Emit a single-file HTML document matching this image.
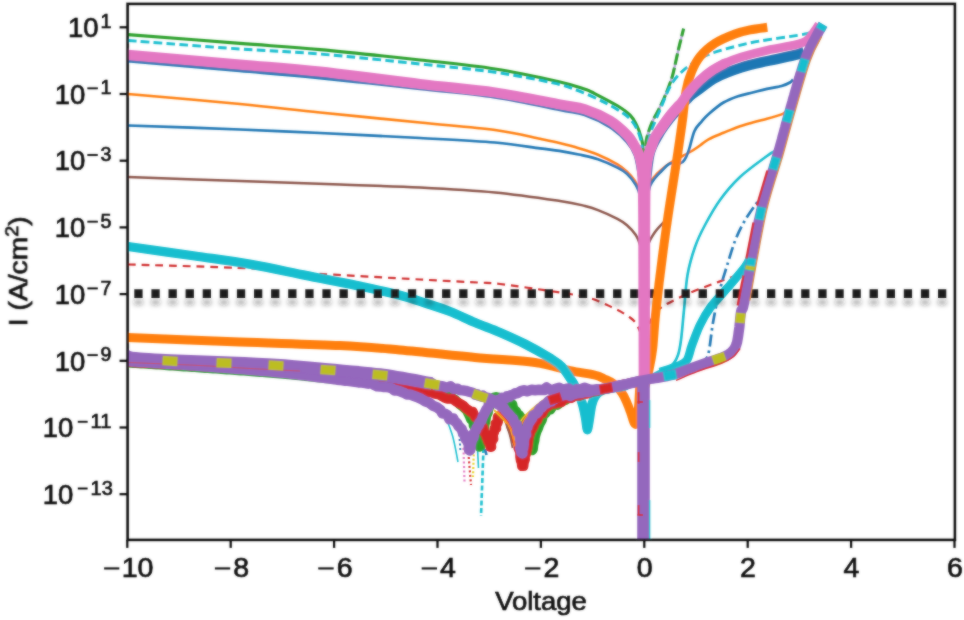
<!DOCTYPE html>
<html><head><meta charset="utf-8"><title>I-V</title>
<style>
html,body{margin:0;padding:0;background:#fff;}
body{width:964px;height:620px;overflow:hidden;font-family:"Liberation Sans",sans-serif;}
svg{display:block}
text{font-family:"Liberation Sans",sans-serif;fill:#0c0c0c;stroke:#0c0c0c;stroke-width:0.65px}
</style></head><body>
<svg width="964" height="620" viewBox="0 0 964 620">
<defs>
<clipPath id="clip"><rect x="127.6" y="3.9" width="827.3" height="536.0"/></clipPath>
<filter id="soft" x="-2%" y="-2%" width="104%" height="104%"><feGaussianBlur stdDeviation="0.85" result="b"/><feComposite in="SourceGraphic" in2="b" operator="arithmetic" k1="0" k2="0.45" k3="0.55" k4="0"/></filter>
<filter id="shadow" filterUnits="userSpaceOnUse" x="120" y="285" width="840" height="35"><feGaussianBlur stdDeviation="2.4 2.1"/></filter>
</defs>
<rect width="964" height="620" fill="#fff"/>
<g filter="url(#soft)">
<g clip-path="url(#clip)">
<path d="M128.0 34.6 C146.7 36.1 208.0 40.9 240.0 43.4 C272.0 45.9 290.0 46.8 320.0 49.6 C350.0 52.4 390.8 56.8 420.0 60.0 C449.2 63.2 471.7 65.3 495.0 69.0 C518.3 72.7 545.0 78.6 560.0 82.0 C575.0 85.4 579.7 87.6 585.0 89.3 C590.3 91.0 586.2 89.2 591.6 92.0 C597.0 94.8 611.0 101.9 617.4 105.8 C623.8 109.7 627.1 112.1 630.3 115.4 C633.5 118.7 635.0 121.8 636.8 125.4 C638.6 129.0 640.0 133.2 641.0 137.0 C642.0 140.8 642.6 141.7 643.0 148.0 C643.4 154.3 643.5 170.5 643.6 175.0" fill="none" stroke="#2ca02c" stroke-width="3.10" stroke-linecap="butt" stroke-linejoin="round"/>
<path d="M645.0 175.0 C645.1 170.8 645.2 156.3 645.5 150.0 C645.8 143.7 645.8 141.8 647.0 137.0 C648.2 132.2 650.7 125.7 652.6 121.2 C654.5 116.7 656.6 113.8 658.5 110.0 C660.4 106.2 662.1 102.6 663.9 98.6 C665.6 94.6 667.5 90.1 669.0 86.0 C670.5 81.9 671.4 80.0 673.0 73.8 C674.6 67.6 676.8 56.4 678.6 48.9 C680.4 41.4 682.8 32.0 683.6 28.6" fill="none" stroke="#b9a8dc" stroke-width="2.40" stroke-linecap="butt" stroke-linejoin="round"/>
<path d="M645.0 175.0 C645.1 170.8 645.2 156.3 645.5 150.0 C645.8 143.7 645.8 141.8 647.0 137.0 C648.2 132.2 650.7 125.7 652.6 121.2 C654.5 116.7 656.6 113.8 658.5 110.0 C660.4 106.2 662.1 102.6 663.9 98.6 C665.6 94.6 667.5 90.1 669.0 86.0 C670.5 81.9 671.4 80.0 673.0 73.8 C674.6 67.6 676.8 56.4 678.6 48.9 C680.4 41.4 682.8 32.0 683.6 28.6" fill="none" stroke="#2ca02c" stroke-width="3.10" stroke-linecap="butt" stroke-linejoin="round" stroke-dasharray="11.5 3"/>
<path d="M128.0 40.5 C146.7 41.9 208.0 46.8 240.0 49.0 C272.0 51.2 290.0 51.5 320.0 54.0 C350.0 56.5 390.8 61.0 420.0 64.0 C449.2 67.0 472.9 69.1 495.0 72.3 C517.1 75.5 538.9 79.8 552.9 82.9 C566.9 86.0 570.1 87.7 578.7 90.9 C587.3 94.2 597.0 98.6 604.5 102.4 C612.0 106.2 619.1 110.5 623.9 113.8 C628.6 117.1 630.5 119.1 633.0 122.5 C635.5 125.9 637.4 129.8 639.0 134.0 C640.6 138.2 641.9 145.7 642.5 148.0" fill="none" stroke="#17becf" stroke-width="2.90" stroke-linecap="butt" stroke-linejoin="round" stroke-dasharray="8.6 4.3"/>
<path d="M646.0 155.0 C646.7 151.7 647.7 142.5 650.0 135.0 C652.3 127.5 656.2 118.8 660.0 110.0 C663.8 101.2 667.5 90.0 672.5 82.5 C677.5 75.0 683.8 69.8 690.0 65.0 C696.2 60.2 702.5 57.1 710.0 54.0 C717.5 50.9 726.7 48.7 735.0 46.5 C743.3 44.3 749.2 42.9 760.0 41.0 C770.8 39.1 791.3 36.5 800.0 35.0 C808.7 33.5 810.0 32.5 812.0 32.0" fill="none" stroke="#17becf" stroke-width="2.90" stroke-linecap="butt" stroke-linejoin="round" stroke-dasharray="8.6 4.3"/>
<path d="M128.0 94.0 C146.7 95.7 208.0 100.9 240.0 104.0 C272.0 107.1 290.0 109.4 320.0 112.5 C350.0 115.6 390.8 119.6 420.0 122.5 C449.2 125.4 475.0 127.3 495.0 130.0 C515.0 132.7 529.3 136.6 540.0 138.8 C550.7 141.0 552.9 141.4 559.4 143.0 C565.9 144.6 572.3 146.2 578.7 148.2 C585.1 150.1 591.5 152.0 598.0 154.7 C604.5 157.4 612.6 161.6 617.4 164.4 C622.2 167.2 624.1 169.1 627.0 171.8 C629.9 174.5 632.7 177.6 634.8 180.8 C636.9 184.0 638.2 186.8 639.5 191.0 C640.8 195.2 641.6 199.5 642.3 206.0 C643.0 212.5 643.3 226.0 643.5 230.0" fill="none" stroke="#ff7f0e" stroke-width="2.60" stroke-linecap="butt" stroke-linejoin="round"/>
<path d="M645.0 225.0 C645.3 220.3 646.2 203.9 647.0 197.0 C647.8 190.1 648.7 187.0 650.0 183.5 C651.3 180.0 653.3 178.1 655.0 176.0 C656.7 173.9 657.5 173.2 660.0 171.0 C662.5 168.8 665.0 166.2 670.0 163.0 C675.0 159.8 685.0 154.9 690.0 152.0 C695.0 149.1 696.8 147.7 700.0 145.5 C703.2 143.3 705.1 141.2 709.0 139.1 C712.9 137.0 718.7 134.8 723.5 132.8 C728.3 130.8 733.1 128.6 738.0 126.9 C742.9 125.2 747.8 123.9 752.6 122.5 C757.4 121.1 762.2 120.0 767.0 118.7 C771.8 117.4 778.6 115.5 781.6 114.4 C784.6 113.3 784.4 112.6 785.0 112.2" fill="none" stroke="#ff7f0e" stroke-width="2.60" stroke-linecap="butt" stroke-linejoin="round"/>
<path d="M128.0 125.5 C146.7 126.2 208.0 128.2 240.0 129.5 C272.0 130.8 290.0 131.6 320.0 133.0 C350.0 134.4 390.8 136.4 420.0 138.0 C449.2 139.6 475.0 140.8 495.0 142.5 C515.0 144.2 529.3 147.0 540.0 148.4 C550.7 149.8 552.9 149.9 559.4 150.9 C565.9 151.9 572.3 153.1 578.7 154.5 C585.1 155.9 591.5 157.0 598.0 159.2 C604.5 161.4 612.6 165.1 617.4 167.5 C622.2 169.9 623.9 170.8 627.0 173.7 C630.1 176.6 633.6 181.0 635.8 184.7 C638.0 188.4 638.9 191.4 640.0 196.0 C641.1 200.6 641.9 205.5 642.5 212.0 C643.1 218.5 643.3 231.2 643.5 235.0" fill="none" stroke="#1f77b4" stroke-width="2.70" stroke-linecap="butt" stroke-linejoin="round"/>
<path d="M645.0 230.0 C645.3 225.3 646.2 209.3 647.0 202.0 C647.8 194.7 648.7 190.0 650.0 186.0 C651.3 182.0 653.3 180.2 655.0 178.0 C656.7 175.8 657.5 174.9 660.0 172.5 C662.5 170.1 666.7 165.0 670.0 163.5 C673.3 162.0 677.6 164.1 680.0 163.5 C682.4 162.9 682.9 162.2 684.4 160.0 C685.9 157.8 687.0 155.4 688.7 150.6 C690.4 145.8 692.3 135.9 694.5 131.0 C696.7 126.1 699.4 124.2 701.8 121.3 C704.2 118.4 705.4 116.8 709.0 113.7 C712.6 110.6 718.7 105.4 723.5 102.5 C728.3 99.6 733.1 97.9 738.0 96.2 C742.9 94.5 747.8 93.7 752.6 92.5 C757.4 91.3 762.2 90.0 767.0 88.9 C771.8 87.8 777.8 87.1 781.6 86.0 C785.4 84.9 788.1 83.6 790.0 82.5 C791.9 81.4 792.5 80.0 793.0 79.5" fill="none" stroke="#1f77b4" stroke-width="2.70" stroke-linecap="butt" stroke-linejoin="round"/>
<path d="M128.0 177.0 C146.7 177.7 204.7 179.8 240.0 181.0 C275.3 182.2 310.0 183.4 340.0 184.5 C370.0 185.6 394.2 186.2 420.0 187.5 C445.8 188.8 471.7 190.2 495.0 192.5 C518.3 194.8 545.0 198.8 560.0 201.0 C575.0 203.2 578.7 204.5 585.0 206.0 C591.3 207.5 592.6 208.0 598.0 210.2 C603.4 212.3 612.6 216.4 617.4 218.9 C622.2 221.4 623.9 222.5 627.0 225.2 C630.1 227.9 633.6 231.7 635.8 235.0 C638.0 238.3 638.9 241.2 640.0 245.0 C641.1 248.8 641.9 252.5 642.5 258.0 C643.1 263.5 643.3 274.7 643.5 278.0" fill="none" stroke="#8c564b" stroke-width="2.50" stroke-linecap="butt" stroke-linejoin="round"/>
<path d="M645.0 275.0 C645.2 271.7 645.8 260.4 646.5 255.0 C647.2 249.6 647.6 246.3 649.0 242.5 C650.4 238.7 653.0 234.9 655.0 232.0 C657.0 229.1 658.8 227.3 661.0 225.0 C663.2 222.7 666.8 219.2 668.0 218.0" fill="none" stroke="#8c564b" stroke-width="2.50" stroke-linecap="butt" stroke-linejoin="round"/>
<path d="M128.0 264.5 C148.3 265.1 220.2 266.9 250.0 268.3 C279.8 269.7 278.7 271.1 307.0 273.0 C335.3 274.9 391.5 277.9 420.0 279.5 C448.5 281.1 464.7 281.8 478.0 282.5 C491.3 283.2 488.0 282.6 500.0 284.0 C512.0 285.4 535.4 288.8 550.0 291.0 C564.6 293.2 577.1 294.8 587.5 297.5 C597.9 300.2 605.4 304.2 612.5 307.5 C619.6 310.8 625.8 314.4 630.0 317.5 C634.2 320.6 635.5 322.2 637.5 326.0 C639.5 329.8 641.0 333.5 642.0 340.0 C643.0 346.5 643.2 360.8 643.5 365.0" fill="none" stroke="#cf2a2b" stroke-width="2.20" stroke-linecap="butt" stroke-linejoin="round" stroke-dasharray="7.8 5.9"/>
<path d="M645.0 365.0 C645.3 360.0 645.8 342.8 647.0 335.0 C648.2 327.2 649.5 322.7 652.0 318.0 C654.5 313.3 656.5 310.8 662.0 307.0 C667.5 303.2 677.0 298.7 685.0 295.0 C693.0 291.3 701.7 288.2 710.0 285.0 C718.3 281.8 728.7 278.5 735.0 276.0 C741.3 273.5 745.8 271.0 748.0 270.0" fill="none" stroke="#cf2a2b" stroke-width="2.20" stroke-linecap="butt" stroke-linejoin="round" stroke-dasharray="7.8 5.9"/>
<path d="M650.0 376.0 C651.7 375.2 656.3 372.8 660.0 371.0 C663.7 369.2 669.0 367.7 672.0 365.0 C675.0 362.3 676.5 359.2 678.0 355.0 C679.5 350.8 680.0 347.5 681.0 340.0 C682.0 332.5 682.9 320.8 684.0 310.0 C685.1 299.2 685.7 285.5 687.5 275.0 C689.3 264.5 692.1 255.3 695.0 247.0 C697.9 238.7 700.8 232.8 705.0 225.0 C709.2 217.2 714.2 208.0 720.0 200.0 C725.8 192.0 732.2 184.3 740.0 177.0 C747.8 169.7 761.2 160.3 767.0 156.0 C772.8 151.7 773.7 151.8 775.0 151.0" fill="none" stroke="#17becf" stroke-width="2.60" stroke-linecap="butt" stroke-linejoin="round"/>
<path d="M700.0 366.0 C701.0 364.8 704.5 361.5 706.0 359.0 C707.5 356.5 707.8 357.1 709.0 351.0 C710.2 344.9 711.3 332.5 713.0 322.6 C714.7 312.7 717.1 301.1 719.4 291.6 C721.7 282.1 724.4 274.2 727.0 265.8 C729.6 257.4 732.2 248.3 735.0 241.0 C737.8 233.7 740.5 228.2 744.0 222.0 C747.5 215.8 752.5 208.8 756.0 204.0 C759.5 199.2 763.5 194.8 765.0 193.0" fill="none" stroke="#1f77b4" stroke-width="2.70" stroke-linecap="butt" stroke-linejoin="round" stroke-dasharray="12 4 2.5 4"/>
<path d="M400.0 386.0 C404.2 388.0 418.2 394.0 425.0 398.0 C431.8 402.0 436.5 404.0 441.0 410.0 C445.5 416.0 449.2 425.3 452.0 434.0 C454.8 442.7 457.0 457.3 458.0 462.0" fill="none" stroke="#17becf" stroke-width="1.60" stroke-linecap="butt" stroke-linejoin="round"/>
<path d="M483.5 448.0 L481.0 516.0" fill="none" stroke="#17becf" stroke-width="2.60" stroke-linecap="butt" stroke-linejoin="round" stroke-dasharray="5 2.5"/>
<path d="M459.0 430.0 L460.5 452.0" fill="none" stroke="#1f77b4" stroke-width="2.00" stroke-linecap="butt" stroke-linejoin="round" stroke-dasharray="2 2.5"/>
<path d="M463.5 448.0 L464.5 482.0" fill="none" stroke="#e377c2" stroke-width="2.20" stroke-linecap="butt" stroke-linejoin="round" stroke-dasharray="2 2.5"/>
<path d="M468.0 448.0 L471.0 485.0" fill="none" stroke="#d62728" stroke-width="2.20" stroke-linecap="butt" stroke-linejoin="round" stroke-dasharray="2 2.5"/>
<path d="M474.0 446.0 L473.0 477.0" fill="none" stroke="#e8d020" stroke-width="2.20" stroke-linecap="butt" stroke-linejoin="round" stroke-dasharray="2 2.2"/>
<path d="M477.5 448.0 L478.5 468.0" fill="none" stroke="#17becf" stroke-width="1.60" stroke-linecap="butt" stroke-linejoin="round"/>
<path d="M485.0 449.0 L486.5 455.0" fill="none" stroke="#1f77b4" stroke-width="2.60" stroke-linecap="butt" stroke-linejoin="round"/>
<path d="M128.0 337.5 C146.7 338.2 204.7 340.7 240.0 342.0 C275.3 343.3 313.3 344.2 340.0 345.5 C366.7 346.8 377.5 348.0 400.0 350.0 C422.5 352.0 452.5 355.4 475.0 357.5 C497.5 359.6 519.2 360.3 535.0 362.5 C550.8 364.7 560.1 368.5 570.0 370.6 C579.9 372.7 588.8 373.6 594.5 375.0 C600.2 376.4 600.8 377.2 604.0 378.7 C607.2 380.2 611.0 381.6 614.0 384.0 C617.0 386.4 619.8 389.8 622.0 393.0 C624.2 396.2 625.6 399.8 627.0 403.0 C628.4 406.2 629.3 408.8 630.5 412.0 C631.7 415.2 633.0 420.7 634.0 422.5 C635.0 424.3 635.8 425.4 636.5 423.0 C637.2 420.6 638.0 413.2 638.5 408.0 C639.0 402.8 639.2 396.7 639.5 392.0 C639.8 387.3 639.9 382.0 640.0 380.0" fill="none" stroke="#ff7f0e" stroke-width="9.00" stroke-linecap="round" stroke-linejoin="round"/>
<path d="M128.0 246.5 C139.2 248.1 174.5 253.0 195.0 256.0 C215.5 259.0 232.3 261.1 251.0 264.4 C269.7 267.7 288.3 271.9 307.0 275.6 C325.7 279.3 347.5 283.5 363.0 286.8 C378.5 290.1 389.7 292.6 400.0 295.3 C410.3 298.0 416.7 300.3 425.0 303.0 C433.3 305.7 441.7 308.2 450.0 311.5 C458.3 314.8 466.7 319.0 475.0 322.5 C483.3 326.0 491.7 328.9 500.0 332.5 C508.3 336.1 516.7 339.8 525.0 344.0 C533.3 348.2 543.8 354.2 550.0 358.0 C556.2 361.8 558.1 362.8 562.0 367.0 C565.9 371.2 570.6 378.7 573.5 383.5 C576.4 388.3 577.9 392.2 579.5 396.0 C581.1 399.8 582.0 402.3 583.0 406.0 C584.0 409.7 584.8 414.2 585.5 418.0 C586.2 421.8 586.6 426.8 587.0 428.5 C587.4 430.2 587.4 430.2 587.8 428.5 C588.2 426.8 589.0 421.9 589.6 418.0 C590.2 414.1 590.8 408.6 591.7 405.0 C592.6 401.4 593.6 398.8 595.0 396.5 C596.4 394.2 597.5 392.8 600.0 391.5 C602.5 390.2 605.8 389.4 610.0 388.5 C614.2 387.6 622.5 386.4 625.0 386.0" fill="none" stroke="#17becf" stroke-width="9.30" stroke-linecap="round" stroke-linejoin="round"/>
<path d="M660.0 372.0 C663.0 371.0 673.5 368.0 678.0 366.0 C682.5 364.0 684.7 363.5 687.0 360.0 C689.3 356.5 689.8 350.8 692.0 345.0 C694.2 339.2 697.0 331.2 700.0 325.0 C703.0 318.8 705.0 314.7 710.0 308.0 C715.0 301.3 724.2 291.8 730.0 285.0 C735.8 278.2 741.7 271.5 745.0 267.0 C748.3 262.5 749.2 259.5 750.0 258.0" fill="none" stroke="#17becf" stroke-width="8.60" stroke-linecap="butt" stroke-linejoin="round"/>
<g filter="url(#shadow)" opacity="0.34"><path d="M134.3 302.3 H947" stroke="#222" stroke-width="6" stroke-dasharray="8.3 8.8" fill="none"/></g>
<path d="M134.3 293.6 H947" stroke="#1e1e1e" stroke-width="8.8" stroke-dasharray="8.3 8.8" fill="none"/>
<path d="M128.0 60.0 C146.7 61.6 208.0 67.0 240.0 69.8 C272.0 72.6 290.0 74.0 320.0 77.0 C350.0 80.0 390.8 84.6 420.0 87.8 C449.2 91.0 471.7 92.7 495.0 96.2 C518.3 99.7 545.0 105.8 560.0 108.8 C575.0 111.8 576.7 111.1 585.0 114.0 C593.3 116.9 602.9 121.5 610.0 126.0 C617.1 130.5 623.2 136.2 627.5 141.0 C631.8 145.8 633.8 148.5 636.0 155.0 C638.2 161.5 640.2 175.8 641.0 180.0" fill="none" stroke="#1f77b4" stroke-width="5.00" stroke-linecap="butt" stroke-linejoin="round"/>
<path d="M646.0 180.0 C646.7 175.3 647.7 160.0 650.0 152.0 C652.3 144.0 656.7 137.7 660.0 132.0 C663.3 126.3 666.7 122.2 670.0 118.0 C673.3 113.8 676.7 110.7 680.0 107.0 C683.3 103.3 686.7 99.1 690.0 96.0 C693.3 92.9 695.7 91.7 700.0 88.6 C704.3 85.5 708.9 81.1 715.8 77.6 C722.7 74.1 733.0 70.2 741.6 67.4 C750.2 64.6 758.8 63.0 767.4 61.0 C776.0 59.0 787.1 56.9 793.2 55.4 C799.3 53.9 802.2 52.6 804.0 52.0" fill="none" stroke="#1f77b4" stroke-width="10.40" stroke-linecap="butt" stroke-linejoin="round"/>
<path d="M644.0 390.0 C644.8 387.0 647.1 378.7 648.5 372.0 C649.9 365.3 651.2 360.3 652.5 350.0 C653.8 339.7 653.8 330.0 656.0 310.0 C658.2 290.0 662.4 255.8 666.0 230.0 C669.6 204.2 674.8 173.3 677.5 155.0 C680.2 136.7 681.1 130.7 682.5 120.0 C683.9 109.3 684.5 99.0 686.0 91.0 C687.5 83.0 689.2 77.7 691.5 72.0 C693.8 66.3 696.1 61.4 700.0 56.6 C703.9 51.8 709.2 47.1 715.0 43.3 C720.8 39.5 729.2 36.2 735.0 34.0 C740.8 31.8 744.6 30.9 750.0 29.8 C755.4 28.7 764.4 27.7 767.3 27.3" fill="none" stroke="#ff7f0e" stroke-width="9.00" stroke-linecap="butt" stroke-linejoin="round"/>
<path d="M128.0 363.0 L130.6 363.2 L133.2 363.4 L135.7 363.5 L138.4 363.7 L141.1 363.9 L143.7 364.1 L146.4 364.3 L148.9 364.4 L151.4 364.6 L153.9 364.8 L156.5 365.0 L159.0 365.1 L161.7 365.3 L164.5 365.5 L167.2 365.7 L170.0 365.9 L172.7 366.1 L175.5 366.3 L178.3 366.5 L181.1 366.7 L183.9 366.9 L186.7 367.1 L189.4 367.2 L192.0 367.4 L194.7 367.6 L197.3 367.8 L200.0 368.0 L202.6 368.2 L205.2 368.4 L207.9 368.6 L210.5 368.8 L213.1 368.9 L215.8 369.1 L218.6 369.3 L221.3 369.5 L224.1 369.7 L226.8 369.9 L229.6 370.1 L232.4 370.3 L235.2 370.5 L238.0 370.7 L240.8 370.9 L243.5 371.1 L246.3 371.3 L249.0 371.6 L251.8 371.8 L254.5 372.0 L257.2 372.2 L259.8 372.4 L262.4 372.6 L265.1 372.8 L267.7 373.0 L270.8 373.2 L273.9 373.5 L276.9 373.7 L280.0 374.0 L282.8 374.3 L285.6 374.5 L288.4 374.8 L291.2 375.0 L293.7 375.3 L296.3 375.5 L298.9 375.8 L301.5 376.0 L304.7 376.4 L308.0 376.7 L311.2 377.0 L314.4 377.4 L317.6 377.7 L320.7 378.0 L323.9 378.4 L327.1 378.7 L330.2 379.0 L333.5 379.4 L336.7 379.7 L340.0 380.0 L342.6 380.2 L345.1 380.5 L347.7 380.7 L350.2 380.9 L352.9 381.2 L355.5 381.4 L358.1 381.6 L360.7 381.8 L363.4 382.1 L366.0 382.3 L368.6 382.5 L371.2 382.7 L373.8 382.9 L376.4 383.2 L378.9 383.4 L381.5 383.6 L384.7 383.9 L387.9 384.2 L391.2 384.6 L394.2 384.9 L397.1 385.2 L399.9 385.7 L402.7 385.9 L405.2 385.7 L407.9 386.3 L410.6 386.8 L413.1 386.9 L415.6 387.5 L418.9 388.5 L422.6 388.8 L425.6 388.6 L428.8 389.4 L432.1 390.2 L434.5 389.8 L437.2 392.3 L439.7 392.2 L444.8 392.4 L448.5 396.5 L451.0 397.1 L454.7 398.8 L457.6 401.7 L459.4 404.7 L462.7 407.2 L465.1 409.3 L466.4 410.7 L468.2 414.0 L469.3 416.3 L470.6 419.6 L473.0 421.1 L473.2 425.7 L475.6 428.8 L475.4 429.1 L477.3 433.1 L477.6 436.8 L479.1 438.5 L479.2 441.3 L480.0 443.9 L479.9 445.7 L479.4 447.3 L480.9 446.4 L480.3 443.7 L482.1 439.6 L482.5 437.8 L482.8 433.7 L484.4 427.9 L485.1 424.5 L486.0 421.2 L486.7 416.1 L488.4 412.6 L488.7 409.6 L490.6 405.3 L490.4 402.9 L491.8 400.7 L493.1 398.5 L493.8 397.1 L493.7 397.8 L495.3 397.5 L496.1 396.6 L497.4 397.0 L498.8 397.1 L500.8 397.6 L502.6 399.0 L505.0 399.9 L505.8 400.7 L507.9 403.2 L509.8 404.6 L512.8 404.2 L513.7 408.5 L516.3 410.8 L517.8 413.5 L519.8 415.1 L522.3 418.4 L522.7 420.8 L524.3 423.7 L524.7 426.4 L527.4 429.1 L528.0 434.6 L529.3 439.7 L529.1 443.0 L530.4 448.1 L531.7 448.6 L532.4 450.8 L533.0 449.9 L533.4 449.3 L533.9 444.7 L535.0 440.2 L535.4 436.9 L536.9 431.8 L538.8 427.9 L539.5 425.4 L540.7 423.0 L542.4 420.0 L543.5 415.4 L546.2 413.2 L547.6 410.5 L550.6 410.1 L552.9 406.8 L554.7 404.9 L557.6 405.4 L559.6 403.7 L563.3 400.9 L565.1 400.8 L569.0 398.0 L572.5 397.6 L576.6 395.4 L580.4 396.0 L585.1 393.7 L587.4 393.6 L590.4 392.6 L593.5 391.8 L596.1 391.2 L599.0 390.7 L601.9 390.1 L606.6 389.2 L610.0 388.5" fill="none" stroke="#2ca02c" stroke-width="9.00" stroke-linecap="round" stroke-linejoin="round"/>
<path d="M128.0 362.0 L130.5 362.1 L133.0 362.3 L135.5 362.4 L138.0 362.5 L140.6 362.7 L143.1 362.8 L145.6 362.9 L148.7 363.1 L151.7 363.2 L154.7 363.4 L157.8 363.6 L160.5 363.7 L163.2 363.9 L165.9 364.0 L168.6 364.1 L171.3 364.3 L174.1 364.5 L177.0 364.6 L179.8 364.8 L182.7 364.9 L185.5 365.1 L188.4 365.3 L191.3 365.5 L194.2 365.6 L197.1 365.8 L200.0 366.0 L202.5 366.2 L205.1 366.3 L207.6 366.5 L210.2 366.6 L212.7 366.8 L215.3 367.0 L218.1 367.1 L220.9 367.3 L223.6 367.5 L226.4 367.7 L229.2 367.8 L232.0 368.0 L234.5 368.2 L237.0 368.3 L239.5 368.5 L242.0 368.7 L244.5 368.8 L247.0 369.0 L249.5 369.2 L252.0 369.3 L254.5 369.5 L257.0 369.7 L259.6 369.9 L262.1 370.0 L264.6 370.2 L267.1 370.4 L270.0 370.6 L272.8 370.8 L275.6 371.0 L278.5 371.2 L281.3 371.4 L284.2 371.7 L286.8 371.9 L289.4 372.1 L292.1 372.3 L294.7 372.6 L297.4 372.8 L300.0 373.0 L302.5 373.2 L305.0 373.5 L307.5 373.7 L310.0 374.0 L312.5 374.2 L315.0 374.5 L317.9 374.8 L320.8 375.1 L323.8 375.4 L326.7 375.7 L329.6 376.1 L332.5 376.4 L335.3 376.7 L338.1 377.1 L340.9 377.4 L343.8 377.7 L346.4 378.1 L349.1 378.4 L351.7 378.7 L354.4 379.1 L357.0 379.4 L360.1 379.8 L363.1 380.2 L366.2 380.6 L369.2 381.0 L371.9 381.4 L374.6 381.8 L377.3 382.1 L380.0 382.5 L383.0 383.0 L386.0 383.5 L389.1 383.9 L391.7 384.4 L394.0 384.8 L396.4 384.9 L399.6 385.8 L402.8 386.2 L405.8 386.8 L408.6 387.4 L411.7 388.0 L414.3 389.0 L417.1 388.8 L419.9 390.4 L422.7 390.5 L426.2 391.9 L429.0 392.7 L432.0 392.1 L434.1 393.5 L438.1 394.4 L440.0 395.1 L442.4 396.6 L445.1 397.9 L447.1 398.8 L452.3 398.6 L456.8 401.9 L458.9 403.1 L462.9 405.3 L465.8 408.3 L468.2 409.9 L470.9 412.2 L472.7 411.8 L475.0 417.1 L476.2 417.8 L478.9 418.9 L479.8 424.9 L480.6 425.6 L483.1 427.1 L483.7 430.3 L484.0 431.7 L485.5 434.8 L486.2 435.9 L486.5 437.7 L488.1 440.0 L488.0 441.3 L490.1 445.0 L489.7 443.2 L490.2 446.9 L491.3 446.9 L491.0 445.9 L490.8 444.2 L492.4 440.0 L493.4 439.2 L492.8 434.0 L494.1 432.2 L494.4 428.8 L496.2 428.2 L495.4 423.7 L497.3 423.6 L498.1 421.4 L497.6 419.2 L497.8 416.9 L499.5 416.8 L500.0 415.2 L501.4 414.9 L502.4 414.3 L502.9 414.7 L504.0 413.5 L504.6 414.9 L505.9 416.0 L507.0 417.2 L507.9 417.3 L509.2 420.9 L510.2 421.7 L511.3 423.1 L511.3 426.4 L512.7 429.6 L513.6 429.1 L514.5 435.4 L515.6 435.3 L516.1 439.7 L517.4 442.1 L518.4 445.3 L518.4 447.9 L519.7 450.9 L520.1 451.9 L520.2 456.7 L520.7 460.1 L521.7 462.7 L522.0 466.1 L523.3 464.3 L523.4 466.1 L523.8 462.7 L525.0 459.3 L524.7 456.3 L526.0 454.0 L526.9 450.0 L527.5 447.7 L527.9 444.3 L528.3 441.8 L528.7 437.5 L530.0 433.7 L530.8 430.2 L531.9 429.6 L533.7 426.0 L534.7 421.8 L537.2 420.7 L538.6 416.7 L539.9 413.4 L542.4 413.5 L543.5 410.5 L547.1 407.0 L548.6 405.8 L551.9 403.8 L555.0 403.7 L558.2 402.8 L561.6 402.1 L563.4 399.6 L566.9 398.2 L570.9 398.1 L575.2 395.6 L579.0 395.7 L581.9 394.8 L584.4 393.9 L587.2 393.7 L589.6 392.6 L592.3 391.3 L594.9 391.3 L597.7 390.6 L600.5 389.9 L603.3 389.2 L606.0 388.5 L608.9 387.8 L611.9 387.1 L615.1 386.4 L618.4 385.6 L621.7 384.9 L624.9 384.2 L628.0 383.6 L631.1 382.9 L633.7 382.4 L636.3 381.8 L640.0 381.0" fill="none" stroke="#d62728" stroke-width="10.00" stroke-linecap="round" stroke-linejoin="round"/>
<path d="M128.0 361.0 L130.6 361.2 L133.2 361.4 L135.7 361.5 L138.4 361.7 L141.1 361.9 L143.7 362.1 L146.4 362.2 L148.9 362.4 L151.4 362.6 L153.9 362.8 L156.5 362.9 L159.0 363.1 L161.7 363.3 L164.5 363.5 L167.2 363.7 L170.0 363.8 L172.7 364.0 L175.5 364.2 L178.3 364.4 L181.1 364.6 L183.9 364.8 L186.7 365.0 L189.4 365.2 L192.0 365.4 L194.7 365.6 L197.3 365.8 L200.0 366.0 L202.6 366.2 L205.2 366.4 L207.9 366.6 L210.5 366.8 L213.1 367.0 L215.8 367.2 L218.6 367.4 L221.3 367.6 L224.1 367.8 L226.8 368.0 L229.6 368.2 L232.4 368.4 L235.2 368.7 L238.0 368.9 L240.8 369.1 L243.5 369.3 L246.3 369.5 L249.0 369.8 L251.8 370.0 L254.5 370.2 L257.2 370.4 L259.8 370.7 L262.4 370.9 L265.1 371.1 L267.7 371.3 L270.8 371.6 L273.9 371.9 L276.9 372.2 L280.0 372.5 L282.8 372.8 L285.7 373.1 L288.5 373.4 L291.4 373.7 L294.1 374.0 L296.8 374.4 L299.5 374.7 L302.2 375.0 L304.8 375.3 L307.4 375.6 L309.9 376.0 L312.5 376.3 L315.7 376.7 L319.0 377.2 L322.2 377.6 L325.3 378.0 L328.3 378.4 L331.4 378.8 L334.3 379.2 L337.1 379.7 L340.0 379.9 L342.6 380.3 L345.3 380.7 L347.8 380.7 L351.5 381.3 L355.0 381.9 L358.4 382.4 L361.8 382.6 L365.3 383.1 L368.2 383.7 L371.3 383.1 L373.9 384.7 L377.1 386.3 L380.1 386.4 L383.1 386.9 L386.0 387.1 L388.8 387.4 L391.8 388.2 L394.3 390.5 L396.9 390.3 L399.8 391.2 L402.0 392.1 L404.8 393.2 L407.0 394.5 L410.0 394.6 L412.1 395.3 L416.9 397.0 L421.2 398.9 L425.1 401.3 L429.5 402.9 L432.7 405.6 L436.5 407.1 L440.5 410.0 L442.4 413.3 L445.4 413.9 L447.6 415.3 L449.5 419.3 L453.3 418.5 L454.0 420.3 L457.3 423.7 L458.5 426.1 L460.1 427.5 L461.7 429.2 L463.0 432.9 L464.4 434.2 L464.7 436.2 L465.8 439.2 L467.2 439.0 L467.2 439.9 L467.5 441.6 L468.6 444.1 L469.1 447.6 L468.7 447.3 L470.6 446.9 L469.2 450.0 L469.9 450.4 L470.1 449.6 L470.6 448.5 L470.0 444.8 L471.4 442.4 L471.4 441.7 L472.2 439.6 L473.5 437.5 L473.9 435.3 L473.6 433.5 L475.3 431.2 L475.8 430.5 L476.4 428.3 L478.9 424.9 L479.3 422.8 L481.4 420.8 L482.5 417.3 L483.4 415.5 L483.9 414.6 L486.5 409.3 L487.5 408.7 L488.4 407.1 L488.7 404.5 L491.5 402.4 L492.0 400.1 L494.0 400.7 L497.9 400.1 L499.7 401.3 L502.1 397.9 L505.2 398.6 L506.9 396.2 L509.7 396.7 L510.8 395.2 L513.0 394.8 L515.2 393.2 L517.3 393.3 L521.0 391.1 L524.0 390.2 L527.1 391.3 L531.7 389.8 L535.1 390.2 L538.9 389.8 L544.2 390.0 L546.6 387.5 L549.9 389.7 L552.6 390.3 L555.7 388.7 L559.2 387.7 L561.8 389.2 L565.7 389.0 L568.6 388.5 L571.6 390.8 L574.2 391.4 L577.0 389.1 L580.1 389.8 L584.4 387.7 L589.2 389.4 L593.2 389.9 L597.1 389.2 L601.3 389.0 L606.0 388.5 L608.8 388.0 L611.6 387.6 L614.8 386.9 L618.0 386.2 L621.3 385.5 L624.6 384.7 L627.8 384.0 L630.9 383.2 L633.5 382.6 L636.2 381.9 L640.0 381.0" fill="none" stroke="#9467bd" stroke-width="10.50" stroke-linecap="round" stroke-linejoin="round"/>
<path d="M494.0 410.0 C495.5 411.5 500.3 416.0 503.0 419.0 C505.7 422.0 508.2 424.5 510.0 428.0 C511.8 431.5 513.0 439.7 514.0 440.0 C515.0 440.3 514.5 433.7 516.0 430.0 C517.5 426.3 518.6 422.9 523.0 418.0 C527.4 413.1 537.2 404.6 542.5 400.6 C547.8 396.6 552.9 395.1 555.0 394.0" fill="none" stroke="#e8c020" stroke-width="1.80" stroke-linecap="butt" stroke-linejoin="round"/>
<path d="M497.0 411.0 C498.5 412.7 503.5 417.7 506.0 421.0 C508.5 424.3 510.5 426.8 512.0 431.0 C513.5 435.2 513.8 446.2 515.0 446.0 C516.2 445.8 517.0 435.0 519.0 430.0 C521.0 425.0 522.5 420.9 527.0 416.0 C531.5 411.1 540.5 404.3 546.0 400.6 C551.5 396.9 557.7 395.1 560.0 394.0" fill="none" stroke="#ff7f0e" stroke-width="1.80" stroke-linecap="butt" stroke-linejoin="round"/>
<path d="M506.0 424.0 C506.7 426.0 508.9 432.0 510.0 436.0 C511.1 440.0 512.1 446.0 512.5 448.0" fill="none" stroke="#8c564b" stroke-width="1.80" stroke-linecap="butt" stroke-linejoin="round"/>
<path d="M128.0 55.0 C146.7 56.6 208.0 61.8 240.0 64.6 C272.0 67.4 290.0 68.5 320.0 71.7 C350.0 74.9 390.8 80.5 420.0 84.0 C449.2 87.5 471.7 89.1 495.0 92.5 C518.3 95.9 545.0 101.7 560.0 104.5 C575.0 107.3 576.7 106.7 585.0 109.4 C593.3 112.1 602.9 116.4 610.0 120.7 C617.1 125.0 623.6 131.4 627.5 135.3 C631.4 139.2 631.6 140.9 633.5 144.0 C635.4 147.1 637.3 150.1 638.6 153.6 C639.9 157.1 640.7 159.8 641.4 165.0 C642.1 170.2 642.6 174.2 642.9 185.0 C643.2 195.8 643.3 210.8 643.4 230.0 C643.5 249.2 643.5 275.0 643.6 300.0 C643.7 325.0 643.8 366.7 643.8 380.0" fill="none" stroke="#e377c2" stroke-width="10.30" stroke-linecap="butt" stroke-linejoin="round"/>
<path d="M644.4 380.0 C644.4 366.7 644.5 325.0 644.6 300.0 C644.7 275.0 644.7 249.2 644.8 230.0 C644.9 210.8 644.9 195.8 645.2 185.0 C645.5 174.2 646.1 170.0 646.6 165.0 C647.1 160.0 647.7 158.2 648.5 155.0 C649.3 151.8 650.5 148.9 651.6 146.0 C652.7 143.1 653.6 140.1 655.0 137.5 C656.4 134.9 657.3 133.8 659.7 130.3 C662.1 126.8 666.2 120.8 669.4 116.7 C672.6 112.6 677.4 107.4 679.0 105.6" fill="none" stroke="#e377c2" stroke-width="10.80" stroke-linecap="round" stroke-linejoin="round"/>
<path d="M659.7 130.3 C661.3 128.0 666.2 120.8 669.4 116.7 C672.6 112.6 675.8 109.6 679.0 105.6 C682.2 101.6 685.2 96.7 688.7 92.5 C692.2 88.3 696.1 84.0 700.0 80.3 C703.9 76.6 707.8 73.4 712.0 70.6 C716.2 67.8 722.8 64.5 725.0 63.3" fill="none" stroke="#e377c2" stroke-width="9.80" stroke-linecap="round" stroke-linejoin="round"/>
<path d="M700.0 80.3 C702.0 78.7 707.8 73.4 712.0 70.6 C716.2 67.8 720.1 65.6 725.0 63.3 C729.9 61.0 734.5 59.1 741.6 56.9 C748.7 54.7 758.8 52.1 767.4 50.2 C776.0 48.3 787.3 46.6 793.2 45.3 C799.1 44.0 800.5 43.5 803.0 42.5 C805.5 41.5 807.0 40.3 808.5 39.0 C810.0 37.7 810.8 36.2 812.0 34.5 C813.2 32.8 814.8 30.7 816.0 29.0 C817.2 27.3 818.5 25.2 819.0 24.5" fill="none" stroke="#e377c2" stroke-width="8.70" stroke-linecap="butt" stroke-linejoin="round"/>
<path d="M127.0 358.0 C129.2 358.1 132.8 358.4 140.0 358.8 C147.2 359.2 156.0 360.1 170.0 360.7 C184.0 361.3 206.3 361.9 224.0 362.7 C241.7 363.4 258.7 364.0 276.0 365.2 C293.3 366.4 310.7 368.1 328.0 369.7 C345.3 371.3 362.7 372.4 380.0 374.7 C397.3 377.0 423.3 382.2 432.0 383.7" fill="none" stroke="#9467bd" stroke-width="12.80" stroke-linecap="butt" stroke-linejoin="round"/>
<path d="M127.6 348.4 C129 350.6 131.5 352 136 352.6 L136 357 L127.6 357 Z" fill="#9467bd"/>
<path d="M127.0 358.6 L128.2 358.7 L129.7 358.7 L131.6 358.8 L133.9 358.9 L136.7 359.0 L140.0 359.2 L143.7 359.4 L147.9 359.7 L152.4 360.0 L155.0 360.1 L157.6 360.1 L160.5 360.5 L163.5 360.9 L166.7 360.8 L170.0 360.9 L172.5 361.2 L175.1 361.2 L177.6 361.5 L180.6 361.4 L183.5 361.5 L186.1 362.0 L189.5 361.4 L192.7 362.0 L195.4 362.5 L198.9 362.3 L202.1 362.1 L205.0 362.6 L208.5 362.3 L211.7 362.5 L214.9 362.5 L217.9 362.1 L220.9 363.1 L224.2 362.9 L226.9 363.6 L229.8 363.5 L233.0 363.4 L235.9 363.3 L238.6 363.6 L241.5 364.1 L244.7 363.6 L247.2 364.1 L250.0 364.3 L253.1 364.1 L256.0 363.9 L258.9 364.0 L261.5 364.5 L264.4 365.1 L267.4 364.8 L270.3 365.6 L273.1 365.4 L276.2 365.6 L278.7 366.5 L282.1 365.3 L284.7 366.3 L287.7 366.6 L290.4 366.3 L293.3 367.2 L296.1 366.8 L299.1 366.7 L302.0 367.5 L305.0 367.6 L307.6 368.0 L310.7 368.2 L313.6 368.9 L316.6 369.5 L319.2 369.1 L321.8 370.1 L325.0 369.7 L328.1 369.6 L331.0 370.2 L333.5 370.6 L336.9 370.2 L339.7 371.1 L342.5 371.4 L345.5 371.4 L348.4 371.6 L351.2 371.7 L354.0 372.8 L357.0 372.4 L359.6 372.5 L362.7 373.3 L365.6 373.5 L368.4 374.1 L371.3 373.8 L374.4 374.3 L377.1 374.5 L380.0 375.2 L383.0 375.0 L386.0 375.9 L388.7 376.5 L391.8 376.7 L395.0 377.7 L397.7 377.9 L400.7 379.0 L403.8 379.1 L406.8 379.5 L410.2 379.0 L412.7 380.5 L415.7 380.7 L418.9 381.4 L421.1 382.2 L423.9 382.8 L426.7 383.0 L429.6 383.5 L431.5 382.8 L434.9 385.0 L436.7 385.6 L439.6 386.0 L442.3 386.1 L447.0 387.6 L450.4 386.1 L453.6 388.9 L457.6 388.6 L459.7 390.1 L462.9 390.4 L465.8 390.8 L470.1 392.1 L473.5 392.9 L475.1 394.9 L477.3 394.3 L478.5 395.9 L479.2 395.7 L481.2 396.7 L482.6 395.3 L484.8 397.4 L486.0 397.3 L487.8 397.7 L489.1 398.1 L491.1 399.1 L492.9 401.2 L495.1 402.7 L497.4 404.1 L500.5 405.8 L501.9 407.4 L504.1 407.8 L505.4 410.6 L507.0 412.1 L508.7 414.0 L510.0 415.4 L510.8 416.4 L511.9 417.8 L513.0 418.4 L513.8 421.2 L514.5 422.8 L515.8 424.4 L517.0 424.4 L516.9 426.7 L518.0 431.7 L517.3 431.9 L518.9 433.6 L519.4 434.3 L519.9 438.2 L520.0 439.6 L520.6 442.1 L520.7 444.9 L520.1 448.2 L521.2 451.2 L521.2 452.4 L522.0 453.1 L522.6 453.5 L522.3 448.7 L523.3 448.2 L523.8 444.5 L523.8 440.2 L524.8 437.4 L524.3 435.0 L526.3 434.8 L525.6 430.8 L526.5 428.6 L527.6 427.0 L527.6 425.9 L528.9 423.1 L530.5 420.7 L532.1 418.5 L532.9 415.5 L534.6 414.7 L536.5 413.5 L538.1 411.9 L538.9 409.7 L539.8 408.5 L542.0 407.5 L543.1 405.6 L544.8 404.5 L546.1 403.8 L547.1 403.4 L548.1 401.4 L549.3 400.4 L551.5 401.5 L552.6 399.9 L554.5 399.4 L555.8 397.3 L556.5 397.9 L559.1 397.1 L560.9 396.1 L564.8 394.9 L568.1 394.6 L570.2 396.0 L573.9 394.2 L576.5 393.7 L580.8 393.2 L584.3 392.3 L586.7 391.8 L589.2 391.8 L591.5 391.0 L594.2 390.5 L596.6 390.3 L599.1 389.8 L602.6 389.1 L606.0 388.5 L609.2 387.8 L612.4 387.2 L615.5 386.5 L618.6 385.8 L621.6 385.1 L624.7 384.4 L627.7 383.7 L630.6 383.0 L633.5 382.4 L636.4 381.7 L639.2 381.1 L642.0 380.5 L644.7 380.0 L647.4 379.5 L650.0 379.0 L652.6 378.6 L655.2 378.2 L657.7 377.8 L662.6 377.0 L667.4 376.1 L672.0 375.0 L676.5 373.7 L680.7 372.2 L684.8 370.7 L688.9 369.1 L692.9 367.5 L697.0 366.0 L701.3 364.5 L705.9 363.0 L710.5 361.5 L714.8 360.1 L718.7 358.7 L722.0 357.5 L724.5 356.4 L726.5 355.5 L728.0 354.7 L729.2 353.9 L730.4 353.0 L731.5 352.0 L732.6 350.9 L733.6 349.7 L734.4 348.5 L735.2 347.2 L735.9 345.7 L736.5 344.0 L737.1 342.1 L737.5 339.9 L737.9 337.6 L738.3 335.2 L738.6 332.6 L739.0 330.0 L739.4 327.1 L739.7 324.0 L740.0 320.7 L740.3 317.5 L740.6 314.5 L741.0 312.0 L741.4 310.4 L741.7 309.8 L742.1 309.4 L742.6 308.6 L743.2 306.7 L744.0 303.0 L744.5 300.1 L745.1 297.3 L745.7 293.6 L746.4 290.0 L746.9 287.2 L747.3 284.4 L747.8 281.6 L748.3 278.6 L748.8 275.6 L749.4 272.6 L749.9 269.6 L750.4 266.6 L750.9 263.6 L751.5 260.7 L752.0 257.9 L752.5 255.0 L753.0 252.3 L753.5 249.5 L754.0 246.8 L754.5 244.0 L755.0 241.2 L755.5 238.5 L756.1 235.7 L756.6 232.9 L757.1 230.1 L757.6 227.3 L758.2 224.5 L758.7 221.7 L759.3 218.9 L759.9 216.2 L760.5 213.4 L761.2 210.6 L761.8 207.8 L762.5 205.0 L763.2 202.2 L764.0 199.4 L764.7 196.6 L765.6 193.8 L766.4 191.0 L767.2 188.1 L768.1 185.3 L769.0 182.5 L769.8 179.7 L770.7 176.9 L771.6 174.1 L772.5 171.3 L773.4 168.5 L774.2 165.8 L775.1 163.0 L775.9 160.4 L776.7 157.7 L777.5 155.0 L778.2 152.4 L779.0 149.8 L779.7 147.3 L780.4 144.8 L781.1 142.3 L781.8 139.8 L782.4 137.4 L783.1 134.9 L783.8 132.5 L784.4 130.1 L785.1 127.6 L785.7 125.2 L786.4 122.7 L787.1 120.2 L787.8 117.7 L788.5 115.2 L789.3 112.6 L790.0 110.0 L790.8 107.2 L791.6 104.4 L792.4 101.7 L793.2 98.7 L794.1 95.7 L794.9 92.8 L795.8 89.8 L796.7 86.8 L797.5 83.8 L798.4 80.8 L799.3 77.9 L800.1 75.0 L801.0 72.3 L801.8 69.6 L802.6 66.9 L803.8 63.5 L805.0 60.0 L806.1 57.1 L807.2 54.2 L808.3 51.7 L809.4 49.3 L811.6 45.0 L813.6 41.3 L815.4 38.0 L817.0 35.0 L818.4 32.3 L819.7 30.0 L820.8 28.2 L821.7 26.7 L822.4 25.5 L823.0 24.5" fill="none" stroke="#9467bd" stroke-width="10.30" stroke-linecap="butt" stroke-linejoin="round"/>
<path d="M128.0 362.5 C140.0 363.0 179.7 364.5 200.0 365.5 C220.3 366.5 233.3 367.6 250.0 368.5 C266.7 369.4 291.7 370.6 300.0 371.0" fill="none" stroke="#c8506a" stroke-width="1.00" stroke-linecap="butt" stroke-linejoin="round"/>
<path d="M643.5 384.0 L643.5 545.0" fill="none" stroke="#9467bd" stroke-width="12.60" stroke-linecap="butt" stroke-linejoin="round"/>
<path d="M162.5 360.6 L177.5 361.4" fill="none" stroke="#bcbd22" stroke-width="9.50" stroke-linecap="butt" stroke-linejoin="round"/>
<path d="M216.5 362.7 L231.5 363.3" fill="none" stroke="#bcbd22" stroke-width="9.50" stroke-linecap="butt" stroke-linejoin="round"/>
<path d="M268.5 365.1 L283.5 365.9" fill="none" stroke="#bcbd22" stroke-width="9.50" stroke-linecap="butt" stroke-linejoin="round"/>
<path d="M320.5 369.4 L335.5 370.6" fill="none" stroke="#bcbd22" stroke-width="9.50" stroke-linecap="butt" stroke-linejoin="round"/>
<path d="M372.5 374.3 L387.5 375.7" fill="none" stroke="#bcbd22" stroke-width="9.50" stroke-linecap="butt" stroke-linejoin="round"/>
<path d="M424.6 382.7 L439.4 385.3" fill="none" stroke="#bcbd22" stroke-width="9.50" stroke-linecap="butt" stroke-linejoin="round"/>
<path d="M472.9 393.5 L487.1 398.4" fill="none" stroke="#bcbd22" stroke-width="9.50" stroke-linecap="butt" stroke-linejoin="round"/>
<path d="M548.8 400.7 L561.2 396.7" fill="none" stroke="#d62728" stroke-width="9.50" stroke-linecap="butt" stroke-linejoin="round"/>
<path d="M599.6 389.6 L612.4 387.4" fill="none" stroke="#d62728" stroke-width="9.50" stroke-linecap="butt" stroke-linejoin="round"/>
<path d="M663.6 376.5 L676.4 374.2" fill="none" stroke="#17becf" stroke-width="9.50" stroke-linecap="butt" stroke-linejoin="round"/>
<path d="M712.8 360.6 L725.2 356.4" fill="none" stroke="#bcbd22" stroke-width="9.50" stroke-linecap="butt" stroke-linejoin="round"/>
<path d="M739.8 323.0 L740.9 313.0" fill="none" stroke="#bcbd22" stroke-width="9.50" stroke-linecap="butt" stroke-linejoin="round"/>
<path d="M749.7 270.9 L752.0 258.1" fill="none" stroke="#17becf" stroke-width="9.50" stroke-linecap="butt" stroke-linejoin="round"/>
<path d="M759.5 219.9 L762.1 207.1" fill="none" stroke="#17becf" stroke-width="9.50" stroke-linecap="butt" stroke-linejoin="round"/>
<path d="M773.1 169.7 L776.8 157.3" fill="none" stroke="#17becf" stroke-width="9.50" stroke-linecap="butt" stroke-linejoin="round"/>
<path d="M786.6 122.3 L790.1 109.7" fill="none" stroke="#17becf" stroke-width="9.50" stroke-linecap="butt" stroke-linejoin="round"/>
<path d="M801.4 72.0 L805.3 59.0" fill="none" stroke="#17becf" stroke-width="9.50" stroke-linecap="butt" stroke-linejoin="round"/>
<path d="M820.1 29.6 L823.1 24.4" fill="none" stroke="#17becf" stroke-width="9.50" stroke-linecap="butt" stroke-linejoin="round"/>
<path d="M749.8 270.0 L750.5 266.0" fill="none" stroke="#bcbd22" stroke-width="9.50" stroke-linecap="butt" stroke-linejoin="round"/>
<path d="M767.4 170.5 L756.9 205.5" fill="none" stroke="#d62728" stroke-width="2.20" stroke-linecap="butt" stroke-linejoin="round"/>
<path d="M753.5 222.5 L746.4 258.5" fill="none" stroke="#d62728" stroke-width="2.20" stroke-linecap="butt" stroke-linejoin="round"/>
<path d="M743.4 275.5 L737.7 305.5" fill="none" stroke="#d62728" stroke-width="2.20" stroke-linecap="butt" stroke-linejoin="round"/>
<path d="M749.8 300.5 C751.2 293.0 754.8 271.3 757.8 255.5 C760.8 239.7 763.6 222.2 767.8 205.5 C772.0 188.8 778.2 171.3 782.8 155.5 C787.3 139.6 790.7 126.3 795.3 110.5 C799.8 94.6 805.9 72.8 810.3 60.5 C814.7 48.1 819.8 40.5 821.7 36.5" fill="none" stroke="#d98a3c" stroke-width="1.30" stroke-linecap="butt" stroke-linejoin="round"/>
<path d="M676.0 380.3 C679.5 378.9 689.3 374.5 697.0 371.6 C704.7 368.7 716.0 365.4 722.0 363.0 C728.0 360.6 730.0 359.4 733.0 357.0 C736.0 354.6 738.8 349.9 740.0 348.5" fill="none" stroke="#d62728" stroke-width="1.50" stroke-linecap="butt" stroke-linejoin="round"/>
<path d="M638.6 392.0 L638.6 404.0" fill="none" stroke="#d62728" stroke-width="1.60" stroke-linecap="butt" stroke-linejoin="round"/>
<path d="M638.6 452.0 L638.6 462.0" fill="none" stroke="#d62728" stroke-width="1.60" stroke-linecap="butt" stroke-linejoin="round"/>
<path d="M638.6 505.0 L638.6 515.0" fill="none" stroke="#d62728" stroke-width="1.60" stroke-linecap="butt" stroke-linejoin="round"/>
<path d="M637.5 402.0 L643.0 402.0" fill="none" stroke="#d62728" stroke-width="1.60" stroke-linecap="butt" stroke-linejoin="round"/>
<path d="M637.5 515.0 L643.0 515.0" fill="none" stroke="#d62728" stroke-width="1.60" stroke-linecap="butt" stroke-linejoin="round"/>
<path d="M649.6 400.0 L649.6 428.0" fill="none" stroke="#17becf" stroke-width="1.40" stroke-linecap="butt" stroke-linejoin="round"/>
<path d="M649.6 500.0 L649.6 540.0" fill="none" stroke="#17becf" stroke-width="1.40" stroke-linecap="butt" stroke-linejoin="round"/>
</g>
<g>
<rect x="127.6" y="3.9" width="827.3" height="536.0" fill="none" stroke="#121212" stroke-width="2.6"/>
<line x1="127.3" y1="539.9" x2="127.3" y2="547.9" stroke="#121212" stroke-width="2.3"/>
<line x1="230.7" y1="539.9" x2="230.7" y2="547.9" stroke="#121212" stroke-width="2.3"/>
<line x1="334.1" y1="539.9" x2="334.1" y2="547.9" stroke="#121212" stroke-width="2.3"/>
<line x1="437.5" y1="539.9" x2="437.5" y2="547.9" stroke="#121212" stroke-width="2.3"/>
<line x1="540.9" y1="539.9" x2="540.9" y2="547.9" stroke="#121212" stroke-width="2.3"/>
<line x1="644.3" y1="539.9" x2="644.3" y2="547.9" stroke="#121212" stroke-width="2.3"/>
<line x1="747.7" y1="539.9" x2="747.7" y2="547.9" stroke="#121212" stroke-width="2.3"/>
<line x1="851.1" y1="539.9" x2="851.1" y2="547.9" stroke="#121212" stroke-width="2.3"/>
<line x1="954.5" y1="539.9" x2="954.5" y2="547.9" stroke="#121212" stroke-width="2.3"/>
<line x1="119.6" y1="27.3" x2="127.6" y2="27.3" stroke="#121212" stroke-width="2.3"/>
<line x1="119.6" y1="94.0" x2="127.6" y2="94.0" stroke="#121212" stroke-width="2.3"/>
<line x1="119.6" y1="160.7" x2="127.6" y2="160.7" stroke="#121212" stroke-width="2.3"/>
<line x1="119.6" y1="227.4" x2="127.6" y2="227.4" stroke="#121212" stroke-width="2.3"/>
<line x1="119.6" y1="294.1" x2="127.6" y2="294.1" stroke="#121212" stroke-width="2.3"/>
<line x1="119.6" y1="360.8" x2="127.6" y2="360.8" stroke="#121212" stroke-width="2.3"/>
<line x1="119.6" y1="427.5" x2="127.6" y2="427.5" stroke="#121212" stroke-width="2.3"/>
<line x1="119.6" y1="494.2" x2="127.6" y2="494.2" stroke="#121212" stroke-width="2.3"/>
</g>
<g>
<rect x="104.10" y="567.35" width="15.20" height="2.10" fill="#0c0c0c"/>
<text transform="translate(121.70,576.90) scale(1.050,1)" font-size="27.20" text-anchor="start">10</text>
<rect x="214.90" y="567.35" width="15.30" height="2.10" fill="#0c0c0c"/>
<text transform="translate(233.30,576.90) scale(1.050,1)" font-size="27.20" text-anchor="start">8</text>
<rect x="318.30" y="567.35" width="15.30" height="2.10" fill="#0c0c0c"/>
<text transform="translate(336.70,576.90) scale(1.050,1)" font-size="27.20" text-anchor="start">6</text>
<rect x="421.70" y="567.35" width="15.30" height="2.10" fill="#0c0c0c"/>
<text transform="translate(440.10,576.90) scale(1.050,1)" font-size="27.20" text-anchor="start">4</text>
<rect x="525.10" y="567.35" width="15.30" height="2.10" fill="#0c0c0c"/>
<text transform="translate(543.50,576.90) scale(1.050,1)" font-size="27.20" text-anchor="start">2</text>
<text transform="translate(636.70,576.90) scale(1.050,1)" font-size="27.20" text-anchor="start">0</text>
<text transform="translate(740.10,576.90) scale(1.050,1)" font-size="27.20" text-anchor="start">2</text>
<text transform="translate(843.50,576.90) scale(1.050,1)" font-size="27.20" text-anchor="start">4</text>
<text transform="translate(946.90,576.90) scale(1.050,1)" font-size="27.20" text-anchor="start">6</text>
<text transform="translate(98.60,37.00) scale(1.010,1)" font-size="27.20" text-anchor="end">10</text>
<text transform="translate(100.60,27.70) scale(1.000,1)" font-size="19.60" text-anchor="start">1</text>
<text transform="translate(85.40,103.70) scale(1.010,1)" font-size="27.20" text-anchor="end">10</text>
<rect x="87.40" y="87.35" width="10.40" height="1.90" fill="#0c0c0c"/>
<text transform="translate(100.60,94.40) scale(1.000,1)" font-size="19.60" text-anchor="start">1</text>
<text transform="translate(85.40,170.40) scale(1.010,1)" font-size="27.20" text-anchor="end">10</text>
<rect x="87.40" y="154.05" width="10.40" height="1.90" fill="#0c0c0c"/>
<text transform="translate(100.60,161.10) scale(1.000,1)" font-size="19.60" text-anchor="start">3</text>
<text transform="translate(85.40,237.10) scale(1.010,1)" font-size="27.20" text-anchor="end">10</text>
<rect x="87.40" y="220.75" width="10.40" height="1.90" fill="#0c0c0c"/>
<text transform="translate(100.60,227.80) scale(1.000,1)" font-size="19.60" text-anchor="start">5</text>
<text transform="translate(85.40,303.80) scale(1.010,1)" font-size="27.20" text-anchor="end">10</text>
<rect x="87.40" y="287.45" width="10.40" height="1.90" fill="#0c0c0c"/>
<text transform="translate(100.60,294.50) scale(1.000,1)" font-size="19.60" text-anchor="start">7</text>
<text transform="translate(85.40,370.50) scale(1.010,1)" font-size="27.20" text-anchor="end">10</text>
<rect x="87.40" y="354.15" width="10.40" height="1.90" fill="#0c0c0c"/>
<text transform="translate(100.60,361.20) scale(1.000,1)" font-size="19.60" text-anchor="start">9</text>
<text transform="translate(73.20,437.20) scale(1.010,1)" font-size="27.20" text-anchor="end">10</text>
<rect x="77.80" y="420.85" width="9.80" height="1.90" fill="#0c0c0c"/>
<text transform="translate(90.60,427.90) scale(1.020,1)" font-size="19.60" text-anchor="start">11</text>
<text transform="translate(73.20,503.90) scale(1.010,1)" font-size="27.20" text-anchor="end">10</text>
<rect x="77.80" y="487.55" width="9.80" height="1.90" fill="#0c0c0c"/>
<text transform="translate(90.60,494.60) scale(1.020,1)" font-size="19.60" text-anchor="start">13</text>
<text transform="translate(541.00,610.00) scale(1.100,1)" font-size="25.00" text-anchor="middle">Voltage</text>
<text transform="translate(27.2,271.3) rotate(-90) scale(1.13,1)" font-size="25" text-anchor="middle">I (A/cm<tspan dy="-9.5" font-size="17.5">2</tspan><tspan dy="9.5">)</tspan></text>
</g>
</g>
</svg>
</body></html>
